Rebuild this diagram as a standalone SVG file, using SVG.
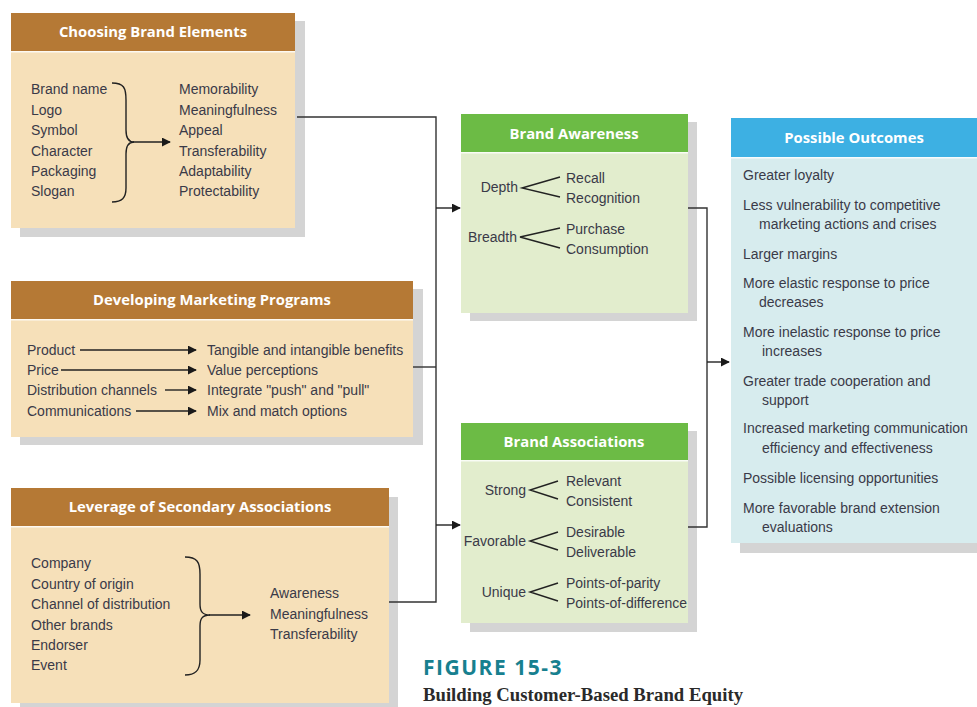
<svg xmlns="http://www.w3.org/2000/svg" width="977" height="707" viewBox="0 0 977 707">
<defs>
<marker id="ah" viewBox="0 0 10 10" refX="9" refY="5" markerWidth="9" markerHeight="9" markerUnits="userSpaceOnUse" orient="auto"><path d="M0,0 L10,5 L0,10 z" fill="#1a1a1a"/></marker>
<style>
.shadow{fill:#d4d4d4}
.hb{fill:#b57935}.bb{fill:#f6e0b9}
.hg{fill:#6cbb45}.bg{fill:#e2edcd}
.hc{fill:#3db0e3}.bc{fill:#d7ecee}
.edge{fill:#ffffff;opacity:0.8}
.ht{font-family:"Open Sans","Liberation Sans",sans-serif;font-weight:bold;font-size:14.8px;fill:#ffffff;text-anchor:middle}
.t{font-family:"Liberation Sans",Arial,sans-serif;font-size:14px;fill:#3a3a48}
.e{text-anchor:end}
.ln{fill:none;stroke:#222;stroke-width:1.4}
.cn{fill:none;stroke:#333;stroke-width:1.4}
.ar{fill:none;stroke:#222;stroke-width:1.4;marker-end:url(#ah)}
</style>
</defs>
<rect width="977" height="707" fill="#ffffff"/>

<g id="choosing-brand-elements">
<rect class="shadow" x="20" y="21" width="285" height="216"/>
<rect class="bb" x="11" y="13" width="284" height="215"/>
<rect class="hb" x="11" y="13" width="284" height="38"/>
<rect class="edge" x="11" y="51" width="284" height="1.5"/>
<text class="ht" x="153" y="37">Choosing Brand Elements</text>
<text class="t" x="31" y="94">Brand name</text>
<text class="t" x="31" y="115">Logo</text>
<text class="t" x="31" y="135">Symbol</text>
<text class="t" x="31" y="156">Character</text>
<text class="t" x="31" y="176">Packaging</text>
<text class="t" x="31" y="196">Slogan</text>
<path class="ln" d="M112,83 C124,83 126,88 126,100 L126,130 C126,138 128,142 134,142 C128,142 126,146 126,154 L126,188 C126,198 122,202 112,202"/>
<path class="ar" d="M133,142 L170,142"/>
<text class="t" x="179" y="94">Memorability</text>
<text class="t" x="179" y="115">Meaningfulness</text>
<text class="t" x="179" y="135">Appeal</text>
<text class="t" x="179" y="156">Transferability</text>
<text class="t" x="179" y="176">Adaptability</text>
<text class="t" x="179" y="196">Protectability</text>
</g>

<g id="developing-marketing-programs">
<rect class="shadow" x="20" y="289" width="403" height="156"/>
<rect class="bb" x="11" y="281" width="402" height="156"/>
<rect class="hb" x="11" y="281" width="402" height="38"/>
<rect class="edge" x="11" y="319" width="402" height="1.5"/>
<text class="ht" x="212" y="305">Developing Marketing Programs</text>
<text class="t" x="27" y="355">Product</text>
<text class="t" x="27" y="375">Price</text>
<text class="t" x="27" y="395">Distribution channels</text>
<text class="t" x="27" y="416">Communications</text>
<path class="ar" d="M80,350 L196,350"/>
<path class="ar" d="M61,370 L196,370"/>
<path class="ar" d="M165,390 L196,390"/>
<path class="ar" d="M136,411 L196,411"/>
<text class="t" x="207" y="355">Tangible and intangible benefits</text>
<text class="t" x="207" y="375">Value perceptions</text>
<text class="t" x="207" y="395">Integrate "push" and "pull"</text>
<text class="t" x="207" y="416">Mix and match options</text>
</g>

<g id="leverage-secondary-associations">
<rect class="shadow" x="20" y="497" width="378" height="215"/>
<rect class="bb" x="11" y="488" width="378" height="215"/>
<rect class="hb" x="11" y="488" width="378" height="38"/>
<rect class="edge" x="11" y="526" width="378" height="1.5"/>
<text class="ht" x="200" y="512">Leverage of Secondary Associations</text>
<text class="t" x="31" y="568">Company</text>
<text class="t" x="31" y="589">Country of origin</text>
<text class="t" x="31" y="609">Channel of distribution</text>
<text class="t" x="31" y="630">Other brands</text>
<text class="t" x="31" y="650">Endorser</text>
<text class="t" x="31" y="670">Event</text>
<path class="ln" d="M185,557 C197,557 200,562 200,574 L200,604 C200,611 202,615 210,615 C202,615 200,619 200,626 L200,660 C200,670 196,675 185,675"/>
<path class="ar" d="M209,615 L250,615"/>
<text class="t" x="270" y="598">Awareness</text>
<text class="t" x="270" y="619">Meaningfulness</text>
<text class="t" x="270" y="639">Transferability</text>
</g>

<g id="brand-awareness">
<rect class="shadow" x="470" y="122" width="227" height="199"/>
<rect class="bg" x="461" y="114" width="227" height="199"/>
<rect class="hg" x="461" y="114" width="227" height="38"/>
<rect class="edge" x="461" y="152" width="227" height="1.5"/>
<text class="ht" x="574" y="139">Brand Awareness</text>
<text class="t e" x="518" y="192">Depth</text>
<path class="ln" d="M560,177 L522,188 L560,197"/>
<text class="t" x="566" y="183">Recall</text>
<text class="t" x="566" y="203">Recognition</text>
<text class="t e" x="517" y="242">Breadth</text>
<path class="ln" d="M560,228 L520,237 L560,248"/>
<text class="t" x="566" y="234">Purchase</text>
<text class="t" x="566" y="254">Consumption</text>
</g>

<g id="brand-associations">
<rect class="shadow" x="470" y="431" width="227" height="201"/>
<rect class="bg" x="461" y="423" width="227" height="200"/>
<rect class="hg" x="461" y="423" width="227" height="37"/>
<rect class="edge" x="461" y="460" width="227" height="1.5"/>
<text class="ht" x="574" y="447">Brand Associations</text>
<text class="t e" x="526" y="495">Strong</text>
<path class="ln" d="M558,481 L530,490 L558,499"/>
<text class="t" x="566" y="486">Relevant</text>
<text class="t" x="566" y="506">Consistent</text>
<text class="t e" x="526" y="546">Favorable</text>
<path class="ln" d="M558,532 L530,541 L558,550"/>
<text class="t" x="566" y="537">Desirable</text>
<text class="t" x="566" y="557">Deliverable</text>
<text class="t e" x="526" y="597">Unique</text>
<path class="ln" d="M558,583 L530,592 L558,601"/>
<text class="t" x="566" y="588">Points-of-parity</text>
<text class="t" x="566" y="608">Points-of-difference</text>
</g>

<g id="possible-outcomes">
<rect class="shadow" x="740" y="127" width="237" height="426"/>
<rect class="bc" x="731" y="118" width="246" height="425"/>
<rect class="hc" x="731" y="118" width="246" height="39"/>
<rect class="edge" x="731" y="157" width="246" height="1.5"/>
<text class="ht" x="854" y="143">Possible Outcomes</text>
<text class="t" x="743" y="180">Greater loyalty</text>
<text class="t" x="743" y="210">Less vulnerability to competitive</text>
<text class="t" x="759" y="229">marketing actions and crises</text>
<text class="t" x="743" y="259">Larger margins</text>
<text class="t" x="743" y="288">More elastic response to price</text>
<text class="t" x="759" y="307">decreases</text>
<text class="t" x="743" y="337">More inelastic response to price</text>
<text class="t" x="762" y="356">increases</text>
<text class="t" x="743" y="386">Greater trade cooperation and</text>
<text class="t" x="762" y="405">support</text>
<text class="t" x="743" y="433">Increased marketing communication</text>
<text class="t" x="762" y="453">efficiency and effectiveness</text>
<text class="t" x="743" y="483">Possible licensing opportunities</text>
<text class="t" x="743" y="513">More favorable brand extension</text>
<text class="t" x="762" y="532">evaluations</text>
</g>

<g id="connectors">
<path class="cn" d="M297,117 L436,117 L436,602 L389,602"/>
<path class="cn" d="M413,367 L436,367"/>
<path class="ar" d="M436,208 L460,208"/>
<path class="ar" d="M436,525 L460,525"/>
<path class="cn" d="M688,208 L707,208 L707,527 L688,527"/>
<path class="ar" d="M707,362 L729,362"/>
</g>

<g id="caption">
<text x="423" y="675" font-family="'Open Sans','Liberation Sans',sans-serif" font-weight="bold" font-size="21" fill="#17808f" letter-spacing="1.5">FIGURE 15-3</text>
<text x="423" y="701" font-family="'Liberation Serif','Times New Roman',serif" font-weight="bold" font-size="18" fill="#2a2a2a" textLength="320" lengthAdjust="spacingAndGlyphs">Building Customer-Based Brand Equity</text>
</g>
</svg>
